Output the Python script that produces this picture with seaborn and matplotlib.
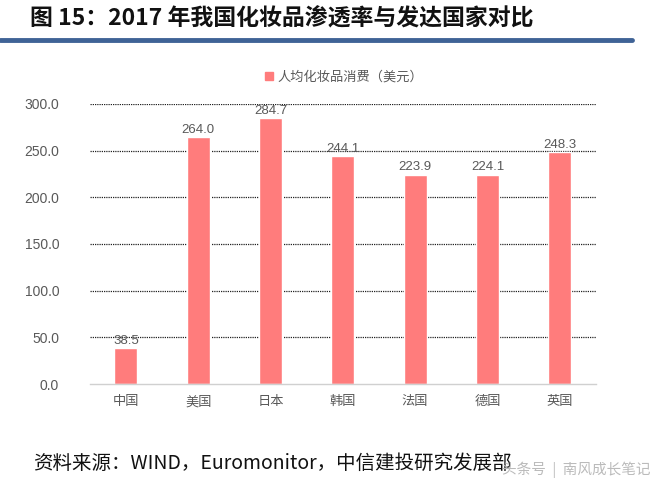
import matplotlib
matplotlib.use("Agg")
import matplotlib.pyplot as plt
import pandas as pd
import seaborn as sns
from matplotlib.lines import Line2D

# --- Data ---
countries = ["中国", "美国", "日本", "韩国", "法国", "德国", "英国"]
spending = [38.5, 264.0, 284.7, 244.1, 223.9, 224.1, 248.3]
y_ticks = [0, 50, 100, 150, 200, 250, 300]
series_name = "人均化妆品消费（美元）"

df = pd.DataFrame({"country": countries, "value": spending})

sns.set_theme(style="white")
plt.rcParams["font.family"] = ["Noto Sans CJK SC", "DejaVu Sans"]

fig = plt.figure(figsize=(6.6, 4.92), dpi=100)
ax = fig.add_axes([0.136, 0.2195, 0.767, 0.5695])

bar_color = "#FF7C7C"
sns.barplot(data=df, x="country", y="value", color=bar_color, width=0.32,
            saturation=1, ax=ax)

ax.set_ylim(0, 300)
ax.set_yticks(y_ticks)
ax.set_yticklabels([f"{v:.1f}" for v in y_ticks], fontsize=10, color="#595959",
                   family=["Liberation Sans", "DejaVu Sans"])
ax.tick_params(axis="x", labelsize=9.5, colors="#595959", length=0, pad=8)
ax.tick_params(axis="y", length=0, pad=22)
ax.set_xlabel("")
ax.set_ylabel("")

# dotted grid lines
for v in y_ticks[1:]:
    ax.axhline(v, color="#222222", linestyle=(0, (1, 0.8)), linewidth=0.9, zorder=0)
ax.set_axisbelow(True)

for side in ["top", "right", "left"]:
    ax.spines[side].set_visible(False)
ax.spines["bottom"].set_color("#D0D0D0")
ax.spines["bottom"].set_linewidth(1)

ax.bar_label(ax.containers[0], fmt="%.1f", fontsize=9.5, color="#595959",
             padding=1, family=["Liberation Sans", "DejaVu Sans"])

# legend
handle = Line2D([0], [0], marker="s", color="none", markerfacecolor=bar_color,
                markeredgecolor=bar_color, markersize=6)
ax.legend([handle], [series_name], loc="lower center", bbox_to_anchor=(0.5, 1.03),
          frameon=False, fontsize=9.5, labelcolor="#595959", handletextpad=0.1,
          handlelength=1)

# title and rule
fig.text(0.045, 0.962, "图 15：2017 年我国化妆品渗透率与发达国家对比", fontsize=16.5,
         fontweight="bold", va="center", ha="left", color="#111111",
         family=["Noto Sans CJK SC", "DejaVu Sans"])
fig.add_artist(Line2D([0.0, 0.958], [0.918, 0.918], color="#3F6396", linewidth=3.5))

# source
fig.text(0.05, 0.058, "资料来源：WIND，Euromonitor，中信建投研究发展部", fontsize=14,
         style="italic", va="center", ha="left", color="#111111",
         family=["Noto Sans CJK SC", "DejaVu Sans"])
fig.text(0.985, 0.045, "头条号  |  南风成长笔记", fontsize=10.5, va="center", ha="right",
         color="#BBBBBB", family=["Noto Sans CJK SC", "DejaVu Sans"])

fig.savefig("out.png", dpi=100)
